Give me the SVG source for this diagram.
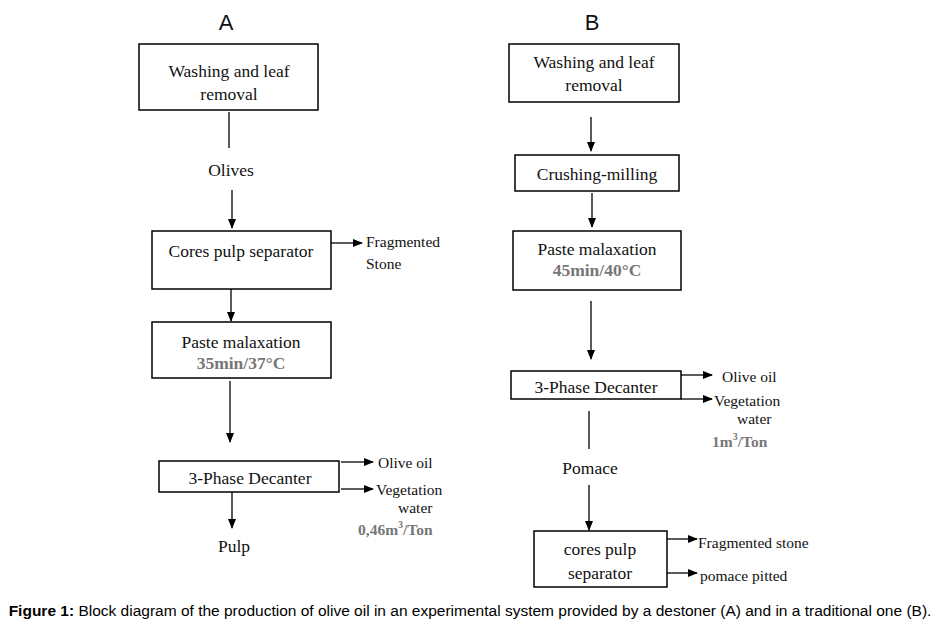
<svg xmlns="http://www.w3.org/2000/svg" width="941" height="628" viewBox="0 0 941 628">
<defs>
<marker id="ah" markerWidth="10" markerHeight="8" refX="9" refY="4" orient="auto" markerUnits="userSpaceOnUse"><path d="M0,0 L10,4 L0,8 z" fill="#000"/></marker>
<style>
.b{fill:#fff;stroke:#000;stroke-width:1.5}
.t{font-family:"Liberation Serif",serif;font-size:17.5px;fill:#111;text-anchor:middle}
.s{font-family:"Liberation Serif",serif;font-size:15.5px;fill:#111}
.g{fill:#777;font-weight:bold}
.c line{stroke:#000;stroke-width:1.3}
.h{font-family:"Liberation Sans",sans-serif;font-size:22px;fill:#111;text-anchor:middle}
</style>
</defs>
<rect width="941" height="628" fill="#fff"/>
<text class="h" x="226" y="30">A</text>
<text class="h" x="592" y="30">B</text>
<g id="a1"><rect class="b" x="139" y="44" width="179" height="66"/><text class="t" x="229" y="77">Washing and leaf</text><text class="t" x="229" y="100">removal</text></g>
<g id="a2"><rect class="b" x="152" y="231" width="179" height="58"/><text class="t" x="241" y="257">Cores pulp separator</text></g>
<g id="a3"><rect class="b" x="152" y="322" width="179" height="56"/><text class="t" x="241" y="348">Paste malaxation</text><text class="t g" x="241" y="369" font-size="16.5">35min/37°C</text></g>
<g id="a4"><rect class="b" x="159" y="461" width="180" height="31"/><text class="t" x="250" y="484">3-Phase Decanter</text></g>
<g id="b1"><rect class="b" x="509" y="44" width="170" height="58"/><text class="t" x="594" y="68">Washing and leaf</text><text class="t" x="594" y="91">removal</text></g>
<g id="b2"><rect class="b" x="515" y="155" width="164" height="36"/><text class="t" x="597" y="180">Crushing-milling</text></g>
<g id="b3"><rect class="b" x="513" y="231" width="168" height="59"/><text class="t" x="597" y="255">Paste malaxation</text><text class="t g" x="597" y="276" font-size="16.5">45min/40°C</text></g>
<g id="b4"><rect class="b" x="511" y="371" width="170" height="28"/><text class="t" x="596" y="393">3-Phase Decanter</text></g>
<g id="b5"><rect class="b" x="534" y="531" width="133" height="56"/><text class="t" x="600" y="555">cores pulp</text><text class="t" x="600" y="579">separator</text></g>
<g class="c">
<line x1="229" y1="112" x2="229" y2="148"/>
<line x1="232" y1="190" x2="232" y2="228" marker-end="url(#ah)"/>
<line x1="331" y1="243" x2="362" y2="243" marker-end="url(#ah)"/>
<line x1="231" y1="289" x2="231" y2="321" marker-end="url(#ah)"/>
<line x1="230" y1="381" x2="230" y2="442" marker-end="url(#ah)"/>
<line x1="341" y1="462" x2="373" y2="462" marker-end="url(#ah)"/>
<line x1="341" y1="489" x2="373" y2="489" marker-end="url(#ah)"/>
<line x1="232" y1="492" x2="232" y2="528" marker-end="url(#ah)"/>
<line x1="591" y1="117" x2="591" y2="151" marker-end="url(#ah)"/>
<line x1="592" y1="193" x2="592" y2="227" marker-end="url(#ah)"/>
<line x1="591" y1="301" x2="591" y2="359" marker-end="url(#ah)"/>
<line x1="681" y1="375" x2="712" y2="375" marker-end="url(#ah)"/>
<line x1="681" y1="399" x2="712" y2="399" marker-end="url(#ah)"/>
<line x1="589" y1="411" x2="589" y2="449"/>
<line x1="589" y1="485" x2="589" y2="530" marker-end="url(#ah)"/>
<line x1="667" y1="539" x2="697" y2="539" marker-end="url(#ah)"/>
<line x1="667" y1="573" x2="697" y2="573" marker-end="url(#ah)"/>
</g>
<text class="t" x="231" y="176">Olives</text>
<text class="s" x="366" y="247">Fragmented</text>
<text class="s" x="366" y="269">Stone</text>
<text class="s" x="378" y="468" font-size="16.5">Olive oil</text>
<text class="s" x="376" y="495" font-size="16.5">Vegetation</text>
<text class="s" x="398" y="513" font-size="16.5">water</text>
<text class="s g" x="358" y="535" font-size="17">0,46m<tspan font-size="10" dy="-7">3</tspan><tspan dy="7">/Ton</tspan></text>
<text class="t" x="234" y="552" font-size="16">Pulp</text>
<text class="s" x="722" y="382" font-size="16.5">Olive oil</text>
<text class="s" x="714" y="406" font-size="16.5">Vegetation</text>
<text class="s" x="737" y="424" font-size="16.5">water</text>
<text class="s g" x="712" y="447" font-size="17">1m<tspan font-size="10" dy="-7">3</tspan><tspan dy="7">/Ton</tspan></text>
<text class="t" x="590" y="474" font-size="16">Pomace</text>
<text class="s" x="698" y="548" font-size="17.5">Fragmented stone</text>
<text class="s" x="700" y="581">pomace pitted</text>
<text x="470" y="616" font-family="Liberation Sans,sans-serif" font-size="15.5" text-anchor="middle" fill="#000"><tspan font-weight="bold">Figure 1:</tspan> Block diagram of the production of olive oil in an experimental system provided by a destoner (A) and in a traditional one (B).</text>
</svg>
